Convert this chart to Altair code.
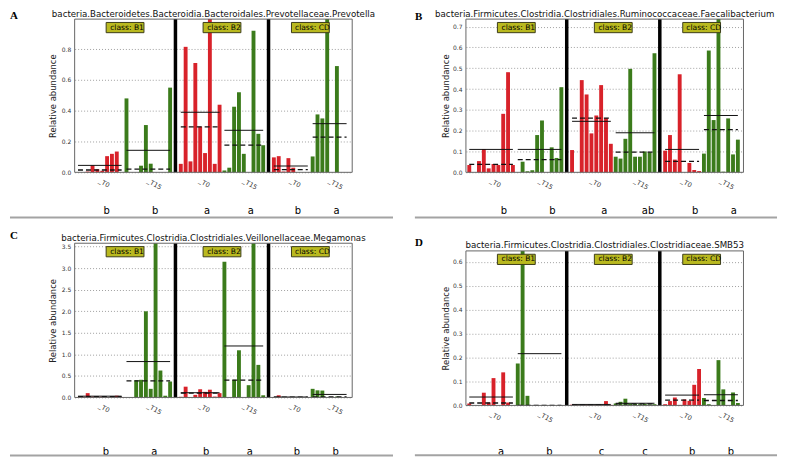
import altair as alt
import pandas as pd

CLASSES = ["B1", "B2", "CD"]
SUBS = ["T0", "T15"]

# ---------------- Panel A ----------------
A_title = "bacteria.Bacteroidetes.Bacteroidia.Bacteroidales.Prevotellaceae.Prevotella"
A_B1_T0 = [0, 0, 0.005, 0.045, 0.02, 0.01, 0.105, 0.12, 0.135, 0]
A_B1_T15 = [0.48, 0, 0, 0.043, 0.307, 0.056, 0, 0, 0, 0.55]
A_B2_T0 = [0.055, 0.815, 0.071, 0.71, 0.297, 0.125, 1.0, 0.055, 0.439]
A_B2_T15 = [0.012, 0.03, 0.426, 0.52, 0.12, 0, 0.92, 0.25, 0.176]
A_CD_T0 = [0.097, 0.105, 0.005, 0.092, 0.03, 0, 0, 0]
A_CD_T15 = [0.103, 0.376, 0.35, 1.01, 0, 0.69, 0, 0]
A_mean = [0.045, 0.143, 0.39, 0.273, 0.041, 0.316]
A_median = [0.015, 0.021, 0.295, 0.176, 0.018, 0.228]
A_letters = ["b", "b", "a", "a", "b", "a"]
A_yticks = [0.0, 0.2, 0.4, 0.6, 0.8]
A_ymax = 0.995

# ---------------- Panel B ----------------
B_title = "bacteria.Firmicutes.Clostridia.Clostridiales.Ruminococcaceae.Faecalibacterium"
B_B1_T0 = [0.035, 0, 0.054, 0.112, 0.019, 0.04, 0.035, 0.281, 0.481, 0.035]
B_B1_T15 = [0, 0.051, 0.005, 0.01, 0.179, 0.249, 0, 0.12, 0.069, 0.409]
B_B2_T0 = [0.107, 0, 0.443, 0.374, 0.187, 0.273, 0.419, 0.26, 0.137]
B_B2_T15 = [0.075, 0.066, 0.161, 0.497, 0.075, 0.075, 0.10, 0.096, 0.572]
B_CD_T0 = [0.104, 0.179, 0.061, 0.471, 0, 0.045, 0.011, 0.006]
B_CD_T15 = [0.09, 0.585, 0.251, 0.755, 0.003, 0.259, 0.086, 0.157]
B_mean = [0.11, 0.11, 0.245, 0.19, 0.11, 0.273]
B_median = [0.038, 0.061, 0.26, 0.097, 0.053, 0.205]
B_letters = ["b", "b", "a", "ab", "b", "a"]
B_yticks = [0.0, 0.1, 0.2, 0.3, 0.4, 0.5, 0.6, 0.7]
B_ymax = 0.736

# ---------------- Panel C ----------------
C_title = "bacteria.Firmicutes.Clostridia.Clostridiales.Veillonellaceae.Megamonas"
C_B1_T0 = [0.01, 0.02, 0.10, 0.02, 0.02, 0.02, 0.01, 0.02, 0.04, 0.01]
C_B1_T15 = [0, 0.01, 0.40, 0.41, 2.0, 0.2, 4.28, 0.625, 0.04, 0.37]
C_B2_T0 = [0.015, 0.25, 0.01, 0.06, 0.19, 0.13, 0.18, 0.02, 0.1]
C_B2_T15 = [3.15, 0, 0.41, 1.095, 0, 0.285, 5.01, 0.756, 0.05]
C_CD_T0 = [0.01, 0.05, 0, 0.01, 0, 0, 0, 0]
C_CD_T15 = [0.2, 0.165, 0.16, 0, 0.01, 0.02, 0.01, 0]
C_mean = [0.03, 0.833, 0.11, 1.195, 0.01, 0.07]
C_median = [0.02, 0.386, 0.10, 0.40, 0.005, 0.015]
C_letters = ["b", "a", "b", "a", "b", "b"]
C_yticks = [0.0, 0.5, 1.0, 1.5, 2.0, 2.5, 3.0, 3.5]
C_ymax = 3.58

# ---------------- Panel D ----------------
D_title = "bacteria.Firmicutes.Clostridia.Clostridiales.Clostridiaceae.SMB53"
D_B1_T0 = [0.008, 0, 0, 0.053, 0.012, 0.114, 0, 0.138, 0.012, 0]
D_B1_T15 = [0.175, 1.945, 0.04, 0, 0, 0, 0, 0, 0, 0]
D_B2_T0 = [0.003, 0.002, 0.002, 0.003, 0.002, 0.002, 0.003, 0.018, 0.002]
D_B2_T15 = [0.008, 0.015, 0.028, 0.008, 0.006, 0.005, 0.006, 0.004, 0.005]
D_CD_T0 = [0.005, 0.018, 0.033, 0.002, 0.025, 0.019, 0.086, 0.152]
D_CD_T15 = [0.031, 0.005, 0, 0.189, 0.067, 0, 0.054, 0.01]
D_mean = [0.035, 0.216, 0.004, 0.009, 0.043, 0.0445]
D_median = [0.01, 0.0, 0.002, 0.006, 0.022, 0.0205]
D_letters = ["a", "b", "c", "c", "b", "b"]
D_yticks = [0.0, 0.1, 0.2, 0.3, 0.4, 0.5, 0.6]
D_ymax = 0.645

RED = "#d8222a"
GREEN = "#3b7b1b"
OLIVE = "#b9b91f"
GAP = 1.2      # extra space (in bar slots) between classes
BW = 0.8       # bar width in slots


def panel(tag, title, series, mean, median, letters, ymax, yticks, W, H, tp,
          letter_dx, letter_dy, gline_dy, gx0, gx1, tag_dy, title_x):
    G = H + tp  # full group height; the plot frame spans tp..G
    bars, groups, cls_span = [], [], []
    idx = 0
    for k, c in enumerate(CLASSES):
        c_first = idx + k * GAP
        for s, sub in enumerate(SUBS):
            vals = series[k * 2 + s]
            first = idx + k * GAP
            for v in vals:
                left = idx + k * GAP
                bars.append(dict(x=left, x2=left + BW, v=v, v0=0.0, sub=sub))
                idx += 1
            last = idx - 1 + k * GAP
            g = k * 2 + s
            groups.append(dict(xs=first + BW / 2, xe=last + BW / 2,
                               xc=(first + last + BW) / 2,
                               mean=mean[g], median=median[g],
                               letter=letters[g], tick="_" + sub))
        cls_span.append((c_first, idx - 1 + k * GAP + BW))
    lo = -0.29
    hi = cls_span[-1][1] + 0.76
    seps = [(cls_span[k][1] + cls_span[k + 1][0]) / 2 for k in range(len(CLASSES) - 1)]
    edges = [lo] + seps + [hi]
    secs = pd.DataFrame(dict(c=[(edges[k] + edges[k + 1]) / 2 for k in range(len(CLASSES))],
                             lab=["class: " + c for c in CLASSES]))
    bdf = pd.DataFrame(bars)
    gdf = pd.DataFrame(groups)
    sdf = pd.DataFrame(dict(x=seps))
    one = pd.DataFrame(dict(a=[0]))

    xs = alt.Scale(domain=[lo, hi], nice=False, zero=False)
    ys = alt.Scale(domain=[0, ymax], nice=False, clamp=True, range=[G, tp])
    yaxis = alt.Axis(values=yticks, format=".1f", title="Relative abundance", titleX=title_x)

    bar_l = alt.Chart(bdf).mark_rect().encode(
        x=alt.X("x:Q", scale=xs, axis=None),
        x2="x2:Q",
        y=alt.Y("v:Q", scale=ys, axis=yaxis),
        y2="v0:Q",
        color=alt.Color("sub:N", scale=alt.Scale(domain=SUBS, range=[RED, GREEN]), legend=None),
    )
    mean_l = alt.Chart(gdf).mark_rule(color="#111", strokeWidth=1).encode(
        x=alt.X("xs:Q", scale=xs, axis=None), x2="xe:Q",
        y=alt.Y("mean:Q", scale=ys, axis=yaxis))
    med_l = alt.Chart(gdf).mark_rule(color="#111", strokeWidth=1.3, strokeDash=[5, 3]).encode(
        x=alt.X("xs:Q", scale=xs, axis=None), x2="xe:Q",
        y=alt.Y("median:Q", scale=ys, axis=yaxis))
    sep_l = alt.Chart(sdf).mark_rule(color="black", strokeWidth=3.5).encode(
        x=alt.X("x:Q", scale=xs, axis=None), y=alt.value(tp), y2=alt.value(G))
    frame_l = alt.Chart(one).mark_rect(fillOpacity=0, stroke="#666", strokeWidth=1).encode(
        x=alt.value(0), x2=alt.value(W), y=alt.value(tp), y2=alt.value(G))
    box_l = alt.Chart(secs).mark_point(
        shape="M-1,-0.27L1,-0.27L1,0.27L-1,0.27Z", size=1444, filled=True,
        fill=OLIVE, stroke="#3c3c1a", strokeWidth=1, opacity=1, dx=2
    ).encode(x=alt.X("c:Q", scale=xs, axis=None), y=alt.value(tp + 8.5))
    boxt_l = alt.Chart(secs).mark_text(fontSize=7.6, color="black", dx=2, baseline="middle").encode(
        x=alt.X("c:Q", scale=xs, axis=None), y=alt.value(tp + 8.5), text="lab:N")
    tick_l = alt.Chart(gdf).mark_text(fontSize=6.5, color="#333", angle=30, align="left",
                                      baseline="top", dx=1).encode(
        x=alt.X("xc:Q", scale=xs, axis=None), y=alt.value(G + 5), text="tick:N")
    let_l = alt.Chart(gdf).mark_text(fontSize=10, color="black", dx=letter_dx,
                                     baseline="alphabetic").encode(
        x=alt.X("xc:Q", scale=xs, axis=None), y=alt.value(G + letter_dy), text="letter:N")
    gl_l = alt.Chart(one).mark_rule(color="#a3a3a3", strokeWidth=2).encode(
        x=alt.value(gx0), x2=alt.value(gx1), y=alt.value(G + gline_dy))
    title_l = alt.Chart(one).mark_text(fontSize=8.7, color="#111", baseline="alphabetic").encode(
        x=alt.value(W / 2), y=alt.value(tp - 2.5), text=alt.value(title))
    tag_l = alt.Chart(one).mark_text(font="Liberation Serif", fontWeight="bold", fontSize=11,
                                     align="left", baseline="alphabetic", color="black").encode(
        x=alt.value(gx0), y=alt.value(tp + tag_dy), text=alt.value(tag))

    return alt.layer(bar_l, mean_l, med_l, sep_l, frame_l, box_l, boxt_l, tick_l, let_l,
                     gl_l, title_l, tag_l).properties(width=W, height=G)


pA = panel("A", A_title, [A_B1_T0, A_B1_T15, A_B2_T0, A_B2_T15, A_CD_T0, A_CD_T15],
           A_mean, A_median, A_letters, A_ymax, A_yticks, 279, 154, 0,
           7, 41.7, 45.4, -65, 320, 0, -17)
pB = panel("B", B_title, [B_B1_T0, B_B1_T15, B_B2_T0, B_B2_T15, B_CD_T0, B_CD_T15],
           B_mean, B_median, B_letters, B_ymax, B_yticks, 279, 154, 0,
           13, 41.7, 45.4, -51.3, 312.7, 1, -16)
pC = panel("C", C_title, [C_B1_T0, C_B1_T15, C_B2_T0, C_B2_T15, C_CD_T0, C_CD_T15],
           C_mean, C_median, C_letters, C_ymax, C_yticks, 279, 155, 0,
           6, 57.5, 58.3, -65, 320, -4.3, -17)
pD = panel("D", D_title, [D_B1_T0, D_B1_T15, D_B2_T0, D_B2_T15, D_CD_T0, D_CD_T15],
           D_mean, D_median, D_letters, D_ymax, D_yticks, 279, 155.3, 7.7,
           10, 49.4, 50, -51.3, 312.7, -5, -16)

chart = alt.concat(
    pA, pB, pC, pD, columns=2, bounds="flush",
    spacing={"row": 71.3, "column": 114.3},
).properties(
    padding=0
).configure(
    font="DejaVu Sans"
).configure_view(
    stroke="transparent"
).configure_axis(
    grid=True, gridDash=[1, 2], gridColor="#888", gridWidth=0.8,
    ticks=False, tickSize=0, domain=False,
    labelFontSize=6, labelColor="#333", labelPadding=4,
    titleFontSize=8.5, titleFontWeight="normal", titleColor="#222", titlePadding=5,
)

chart.save("out.html", embed_options={"renderer": "svg", "actions": False})
